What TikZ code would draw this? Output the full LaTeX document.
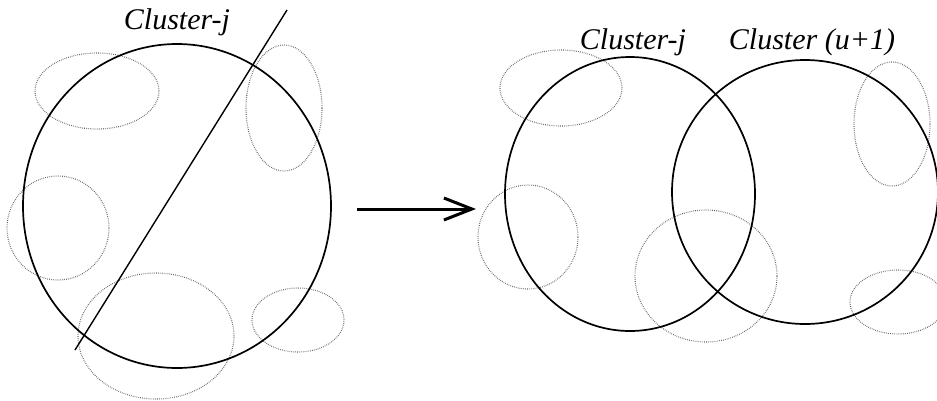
\documentclass[tikz,border=0pt]{standalone}
\usepackage{fontspec}
\setmainfont{Liberation Serif}
\usetikzlibrary{arrows.meta}

\begin{document}
\begin{tikzpicture}[x=1pt, y=-1pt,
        clus/.style={draw=black, line width=1.7pt},
        blob/.style={draw=black!60, line width=1.1pt, dash pattern=on 0.7pt off 1.2pt},
        lbl/.style={font=\fontsize{30}{32}\selectfont\itshape, inner sep=0pt},
        arr/.style={-{Straight Barb[length=28pt, width=22pt, line width=3pt]}, line width=3pt, black}]
        \useasboundingbox (0,0) rectangle (937,400);
        % before the split
        \draw[blob] (97,91) ellipse [x radius=62pt, y radius=38pt];
        \draw[blob] (284,108) ellipse [x radius=38pt, y radius=63pt];
        \draw[blob] (58,228) ellipse [x radius=51pt, y radius=52pt];
        \draw[blob] (156,336) ellipse [x radius=78pt, y radius=63pt];
        \draw[blob] (298,320) ellipse [x radius=46pt, y radius=32pt];
        \draw[clus] (177,206) ellipse [x radius=154pt, y radius=162pt];
        \coordinate (c0) at (75,350);
        \coordinate (c1) at (287,10);
        \draw[black, line width=1.4pt] (c0) -- (c1);
        \node[lbl] (lj) at (177,22) {Cluster-j};
        % arrow
        \coordinate (a0) at (357,209);
        \coordinate (a1) at (476,209);
        \draw[arr] (a0) -- (a1);
        % after the split
        \draw[blob] (561,88) ellipse [x radius=61pt, y radius=38pt];
        \draw[blob] (892,124) ellipse [x radius=38pt, y radius=62pt];
        \draw[blob] (528,237) ellipse [x radius=50pt, y radius=52pt];
        \draw[blob] (706,276) ellipse [x radius=71pt, y radius=66pt];
        \draw[blob] (898,302) ellipse [x radius=48pt, y radius=32pt];
        \draw[clus] (630,194) ellipse [x radius=125pt, y radius=137pt];
        \draw[clus] (805,192) ellipse [x radius=133pt, y radius=132pt];
        \node[lbl] (rj) at (633,42) {Cluster-j};
        \node[lbl] (ru) at (812,42) {Cluster (u+1)};
\end{tikzpicture}
\end{document}
